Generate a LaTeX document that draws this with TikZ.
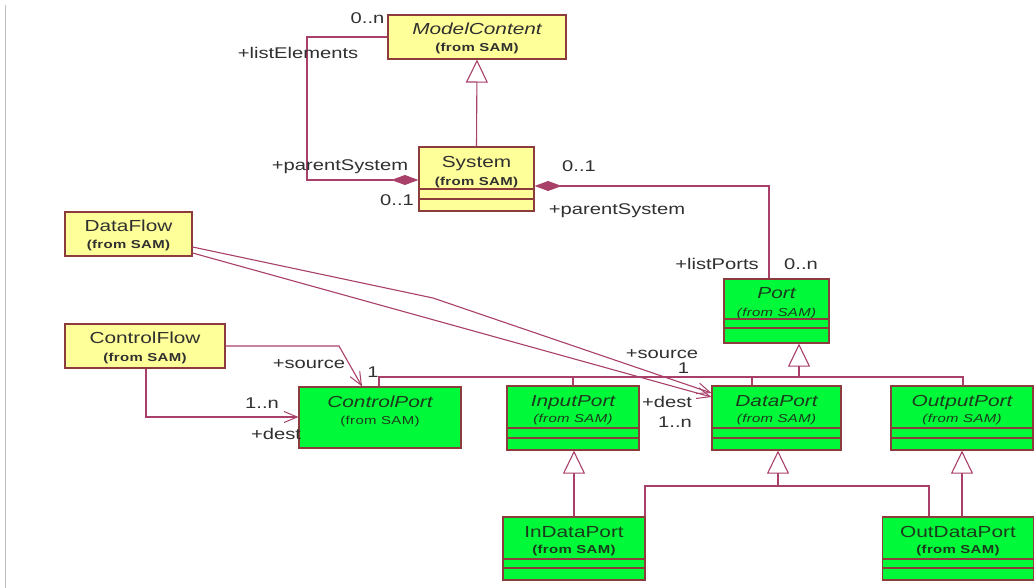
\documentclass[tikz,border=0pt]{standalone}
\usepackage{fontspec}
\setmainfont{Liberation Sans}
\newfontfamily\umlf[FakeStretch=1.3]{Liberation Sans}
\newfontfamily\fromf[FakeStretch=1.3,LetterSpace=3]{Liberation Sans}
\usetikzlibrary{arrows.meta}
\definecolor{ln}{HTML}{A8406A}
\definecolor{bd}{HTML}{8C3C3C}
\definecolor{yl}{HTML}{FFFF99}
\definecolor{gr}{HTML}{00FA3A}
\definecolor{tx}{HTML}{303030}
\definecolor{gtx}{HTML}{1C3A1C}
\tikzset{
  box/.style={draw=bd, line width=1.2pt, inner sep=0pt},
  ybox/.style={box, fill=yl},
  gbox/.style={box, fill=gr},
  cname/.style={font=\umlf\fontsize{16}{18}\selectfont, text=tx, inner sep=0pt, anchor=base},
  cnamei/.style={cname, font=\umlf\itshape\fontsize{16}{18}\selectfont, text=gtx},
  cnameg/.style={cname, text=gtx},
  fromsam/.style={font=\fromf\bfseries\fontsize{11.5}{13}\selectfont, text=tx, inner sep=0pt, anchor=base},
  fromsamg/.style={fromsam, text=gtx},
  fromsami/.style={fromsam, font=\fromf\itshape\fontsize{11.5}{13}\selectfont, text=gtx},
  lbl/.style={font=\umlf\fontsize{15.5}{17}\selectfont, text=tx, inner sep=0pt, anchor=base},
  conn/.style={draw=ln, line width=1.1pt},
  gen/.style={conn, -{Triangle[open, length=23pt, width=22pt, line width=1.1pt]}},
  comp/.style={conn, {Diamond[length=27pt, width=10pt]}-},
  nav/.style={conn, -{Straight Barb[length=13pt, width=11pt, line width=1pt]}},
  sep/.style={draw=bd, line width=1.1pt}
}
\begin{document}
\begin{tikzpicture}[x=1pt, y=-1pt]
\useasboundingbox (0,0) rectangle (1035,588);
\fill[white] (0,0) rectangle (1035,588);
\draw[black!25, line width=1pt] (5,5) -- (5,588);

% ---------- class boxes ----------
\node[ybox, minimum width=178pt, minimum height=44pt] (mc) at (477,37) {};
\node[cname, font=\umlf\itshape\fontsize{16}{18}\selectfont] (mcn) at (477,34.7) {ModelContent};
\node[fromsam] (mcf) at (477,51.2) {(from SAM)};

\node[ybox, minimum width=115pt, minimum height=64pt] (sys) at (476.5,179) {};
\node[cname] (sysn) at (476.5,167.7) {System};
\node[fromsam] (sysf) at (476.5,185.8) {(from SAM)};
\draw[sep] (sys.west |- 0,189) -- (sys.east |- 0,189);
\draw[sep] (sys.west |- 0,199) -- (sys.east |- 0,199);

\node[ybox, minimum width=127pt, minimum height=44pt] (df) at (128.5,234) {};
\node[cname] (dfn) at (128.5,231.7) {DataFlow};
\node[fromsam] (dff) at (128.5,248.2) {(from SAM)};

\node[ybox, minimum width=160pt, minimum height=44pt] (cf) at (145,346) {};
\node[cname] (cfn) at (145,343.7) {ControlFlow};
\node[fromsam] (cff) at (145,361.2) {(from SAM)};

\node[gbox, minimum width=105pt, minimum height=64pt] (port) at (776.5,311) {};
\node[cnamei] (portn) at (776.5,298.7) {Port};
\node[fromsami] (portf) at (776.5,316.2) {(from SAM)};
\draw[sep] (port.west |- 0,319) -- (port.east |- 0,319);
\draw[sep] (port.west |- 0,328) -- (port.east |- 0,328);

\node[gbox, minimum width=162pt, minimum height=61pt] (ctrl) at (380,417.5) {};
\node[cnamei] (ctrln) at (380,407.7) {ControlPort};
\node[fromsamg, font=\fromf\fontsize{11.5}{13}\selectfont] (ctrlf) at (380,424.2) {(from SAM)};

\node[gbox, minimum width=132pt, minimum height=64pt] (inp) at (573,418) {};
\node[cnamei] (inpn) at (573,406.7) {InputPort};
\node[fromsami] (inpf) at (573,422.2) {(from SAM)};
\draw[sep] (inp.west |- 0,428) -- (inp.east |- 0,428);
\draw[sep] (inp.west |- 0,438) -- (inp.east |- 0,438);

\node[gbox, minimum width=129pt, minimum height=64pt] (dp) at (776.5,418) {};
\node[cnamei] (dpn) at (776.5,406.7) {DataPort};
\node[fromsami] (dpf) at (776.5,422.2) {(from SAM)};
\draw[sep] (dp.west |- 0,428) -- (dp.east |- 0,428);
\draw[sep] (dp.west |- 0,438) -- (dp.east |- 0,438);

\node[gbox, minimum width=142pt, minimum height=64pt] (op) at (962,418) {};
\node[cnamei] (opn) at (962,406.7) {OutputPort};
\node[fromsami] (opf) at (962,422.2) {(from SAM)};
\draw[sep] (op.west |- 0,428) -- (op.east |- 0,428);
\draw[sep] (op.west |- 0,438) -- (op.east |- 0,438);

\node[gbox, minimum width=142pt, minimum height=63pt] (idp) at (574,548.5) {};
\node[cnameg] (idpn) at (574,537.7) {InDataPort};
\node[fromsamg] (idpf) at (574,553.2) {(from SAM)};
\draw[sep] (idp.west |- 0,559) -- (idp.east |- 0,559);
\draw[sep] (idp.west |- 0,568) -- (idp.east |- 0,568);

\node[gbox, minimum width=151pt, minimum height=63pt] (odp) at (958,548.5) {};
\node[cnameg] (odpn) at (958,537.7) {OutDataPort};
\node[fromsamg] (odpf) at (958,553.2) {(from SAM)};
\draw[sep] (odp.west |- 0,559) -- (odp.east |- 0,559);
\draw[sep] (odp.west |- 0,568) -- (odp.east |- 0,568);

% ---------- connectors ----------
% System -> ModelContent
\draw[gen] (sys.north) -- (mc.south);
% listElements composition
\coordinate (c1a) at (307,180);
\coordinate (c1b) at (307,37);
\draw[comp] (sys.west |- c1a) -- (c1a) -- (c1b) -- (mc.west);
% listPorts composition
\coordinate (c2) at (769,186);
\draw[comp] (sys.east |- c2) -- (c2) -- (port.north -| c2);

% Port generalization tree
\coordinate (j1) at (799,377);
\coordinate (t1L) at (379,377);
\coordinate (t1D) at (752,377);
\coordinate (t1R) at (963,377);
\draw[gen] (j1) -- (port.south -| j1);
\draw[conn] (ctrl.north -| t1L) -- (t1L) -- (t1R) -- (op.north -| t1R);
\draw[conn] (inp.north) -- (inp.north |- t1L);
\draw[conn] (dp.north -| t1D) -- (t1D);

% DataPort generalization tree
\coordinate (j2) at (778,486);
\coordinate (t2L) at (645,486);
\coordinate (t2R) at (929,486);
\draw[gen] (j2) -- (dp.south -| j2);
\draw[conn] (idp.north -| t2L) -- (t2L) -- (t2R) -- (odp.north -| t2R);
\draw[gen] (idp.north) -- (idp.north |- inp.south);
\draw[gen] (odp.north -| op.south) -- (op.south);

% ControlFlow -> ControlPort
\coordinate (s1) at (339,346);
\coordinate (s2) at (362,0);
\draw[nav] (cf.east) -- (s1) -- (ctrl.north -| s2);
\coordinate (d1) at (146,417);
\draw[nav] (cf.south -| d1) -- (d1) -- (ctrl.west |- d1);

% DataFlow -> DataPort
\coordinate (e1) at (0,247);
\coordinate (b1) at (433,298);
\coordinate (e2) at (0,393);
\draw[nav] (df.east |- e1) -- (b1) -- (dp.west |- e2);
\coordinate (e3) at (0,253);
\coordinate (e4) at (0,397);
\draw[nav] (df.east |- e3) -- (dp.west |- e4);

% ---------- labels ----------
\node[lbl] (l1) at (367.5,23.4) {0..n};
\node[lbl] (l2) at (298,58.4) {+listElements};
\node[lbl] (l3) at (340,170.7) {+parentSystem};
\node[lbl] (l4) at (397,205.5) {0..1};
\node[lbl] (l5) at (579,171.4) {0..1};
\node[lbl] (l6) at (617,214.4) {+parentSystem};
\node[lbl] (l7) at (717,269.4) {+listPorts};
\node[lbl] (l8) at (801,269.4) {0..n};
\node[lbl] (l9) at (309,368.4) {+source};
\node[lbl] (l10) at (373,377.4) {1};
\node[lbl] (l11) at (262,408.4) {1..n};
\node[lbl] (l12) at (276,439.5) {+dest};
\node[lbl] (l13) at (662,358.4) {+source};
\node[lbl] (l14) at (683.5,373.4) {1};
\node[lbl] (l15) at (667,407.4) {+dest};
\node[lbl] (l16) at (675,427.4) {1..n};
\end{tikzpicture}
\end{document}
